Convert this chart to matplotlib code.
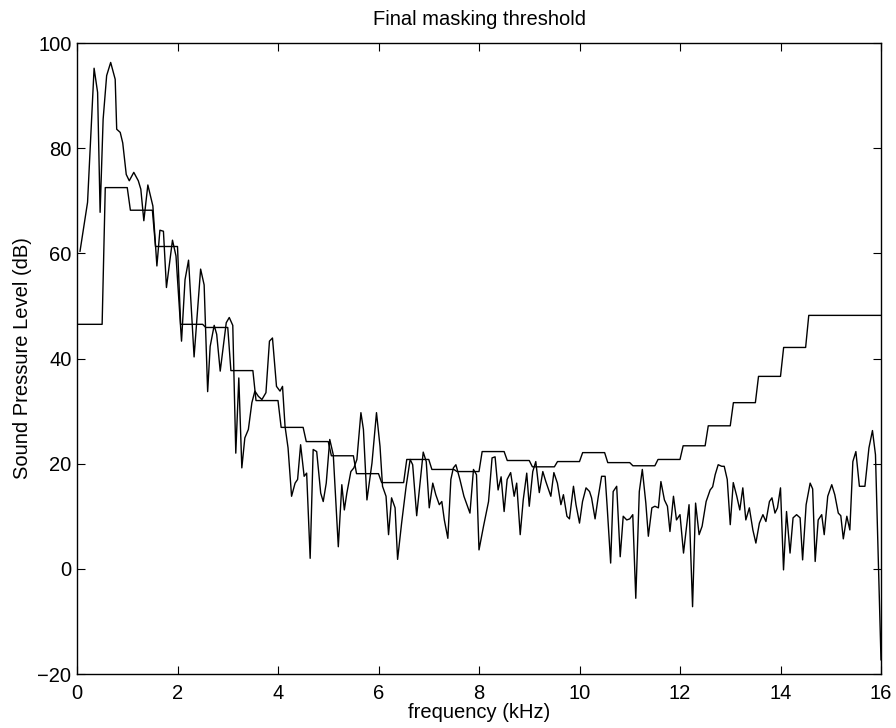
import matplotlib
matplotlib.use("Agg")
import matplotlib.pyplot as plt

plt.rcParams['font.family'] = ['Liberation Sans', 'DejaVu Sans']

# Spectrum (kHz, dB)
freq_khz = [0.06, 0.21, 0.34, 0.41, 0.46, 0.52, 0.59, 0.67, 0.76, 0.79, 0.86, 0.91, 0.98,
            1.04, 1.13, 1.22, 1.27, 1.33, 1.41, 1.51, 1.59, 1.65, 1.72, 1.78, 1.90, 1.97,
            2.08, 2.15, 2.22, 2.33, 2.46, 2.53, 2.60, 2.65, 2.73, 2.78, 2.85, 2.97,
            3.03, 3.10, 3.16, 3.22, 3.28, 3.34, 3.41, 3.48, 3.54, 3.61, 3.68, 3.76, 3.83, 3.89, 3.97,
            4.04, 4.09, 4.14, 4.20, 4.27, 4.34, 4.39, 4.45, 4.52, 4.57, 4.64, 4.70, 4.77, 4.85, 4.90, 4.96,
            5.03, 5.10, 5.20, 5.27, 5.32, 5.37, 5.45, 5.51, 5.57, 5.65, 5.70, 5.77, 5.87, 5.96,
            6.03, 6.08, 6.15, 6.20, 6.26, 6.33, 6.38, 6.46, 6.55, 6.63, 6.68, 6.76, 6.83, 6.89, 6.95,
            7.01, 7.08, 7.14, 7.21, 7.26, 7.31, 7.38, 7.44, 7.49, 7.54, 7.62, 7.70, 7.82, 7.89, 7.95,
            8.00, 8.09, 8.19, 8.26, 8.32, 8.38, 8.44, 8.50, 8.56, 8.63, 8.70, 8.75, 8.82, 8.88, 8.95,
            9.00, 9.07, 9.13, 9.20, 9.27, 9.33, 9.43, 9.49, 9.56, 9.63, 9.68, 9.75, 9.80, 9.88, 9.93,
            10.00, 10.06, 10.13, 10.20, 10.24, 10.31, 10.37, 10.44, 10.51, 10.55, 10.62, 10.67, 10.74,
            10.81, 10.87, 10.94, 11.00, 11.06, 11.12, 11.19, 11.25, 11.32, 11.37, 11.44, 11.50, 11.57,
            11.62, 11.69, 11.75, 11.80, 11.87, 11.93, 12.00, 12.07, 12.18, 12.25, 12.31, 12.38, 12.44,
            12.52, 12.60, 12.65, 12.70, 12.76, 12.83, 12.88, 12.94, 13.00, 13.06, 13.13, 13.19, 13.25,
            13.31, 13.38, 13.45, 13.51, 13.58, 13.65, 13.71, 13.78, 13.83, 13.89, 13.94, 14.00, 14.06,
            14.12, 14.19, 14.25, 14.32, 14.39, 14.44, 14.51, 14.59, 14.64, 14.69, 14.75, 14.82, 14.87,
            14.94, 15.02, 15.08, 15.15, 15.20, 15.25, 15.32, 15.38, 15.44, 15.50, 15.57, 15.68, 15.76,
            15.83, 15.89, 16.00]
spl_db = [60.4, 69.7, 95.2, 90.6, 67.8, 85.5, 93.8, 96.3, 93.1, 83.6, 83.0, 81.0, 75.0,
          73.8, 75.4, 73.8, 72.2, 66.2, 73.0, 69.0, 57.6, 64.4, 64.2, 53.5, 62.5, 59.5,
          43.3, 55.0, 58.7, 40.3, 57.0, 54.0, 33.7, 42.3, 46.3, 44.6, 37.6, 46.8,
          47.8, 46.3, 22.0, 36.3, 19.2, 24.9, 26.5, 31.6, 33.8, 32.8, 32.2, 33.5, 43.3, 43.9, 34.7,
          33.8, 34.7, 27.1, 23.0, 13.8, 16.3, 17.0, 23.6, 17.6, 18.2, 2.0, 22.7, 22.3, 14.4, 12.8, 16.3,
          24.6, 21.7, 4.2, 16.0, 11.2, 14.4, 18.5, 19.2, 20.8, 29.7, 26.5, 13.1, 20.1, 29.7,
          23.3, 15.7, 13.8, 6.5, 13.5, 11.6, 1.8, 8.7, 15.7, 20.8, 19.8, 10.1, 16.6, 22.2, 20.4,
          11.6, 16.3, 14.1, 12.2, 12.8, 9.3, 5.8, 17.0, 19.2, 19.8, 17.0, 13.8, 10.6, 18.9, 17.9,
          3.6, 8.1, 12.8, 21.1, 21.3, 15.0, 17.5, 10.9, 17.0, 18.3, 13.8, 16.3, 6.5, 13.1, 18.2,
          11.9, 18.5, 20.4, 14.5, 18.5, 16.6, 13.8, 18.3, 16.3, 12.2, 14.1, 10.0, 9.5, 15.7, 12.2,
          8.7, 12.8, 15.4, 14.7, 13.5, 9.5, 13.5, 17.6, 17.6, 11.9, 1.1, 14.7, 15.7,
          2.3, 10.0, 9.3, 9.5, 10.3, -5.6, 14.7, 18.9, 12.5, 6.2, 11.6, 11.9, 11.6,
          16.6, 13.1, 11.9, 7.1, 13.8, 9.3, 10.3, 3.0, 12.2, -7.2, 12.5, 6.5, 8.1,
          12.8, 15.0, 15.6, 17.9, 19.8, 19.5, 19.5, 17.0, 8.4, 16.4, 13.8, 11.2, 15.4,
          9.3, 11.6, 7.4, 4.9, 8.7, 10.3, 9.0, 12.8, 13.5, 10.6, 11.6, 15.4, -0.2,
          10.9, 3.0, 9.7, 10.3, 9.7, 1.7, 12.2, 16.3, 15.2, 1.4, 9.3, 10.3, 6.5,
          13.8, 16.0, 14.1, 10.6, 10.1, 5.7, 10.0, 7.4, 20.4, 22.3, 15.7, 15.7, 23.0,
          26.3, 21.7, -17.3]

# Masking threshold: band edges (kHz) and level per band (dB)
band_edges = [0.0, 0.5, 1.0, 1.5, 2.0, 2.5, 3.0, 3.5, 4.0, 4.5, 5.0, 5.5, 6.0, 6.5, 7.0, 7.5,
              8.0, 8.5, 9.0, 9.5, 10.0, 10.5, 11.0, 11.5, 12.0, 12.5, 13.0, 13.5, 14.0, 14.5, 15.0, 16.0]
band_levels = [46.5, 72.5, 68.2, 61.3, 46.5, 45.9, 37.7, 32.0, 26.9, 24.2, 21.5, 18.1, 16.4, 20.8,
               18.9, 18.5, 22.3, 20.6, 19.4, 20.4, 22.1, 20.2, 19.6, 20.8, 23.4, 27.2, 31.6, 36.6,
               42.1, 48.2, 48.2]
bin_width = 0.0625

thr_x, thr_y = [], []
for i, lev in enumerate(band_levels):
    lo = band_edges[i] + (bin_width if i > 0 else 0.0)
    hi = band_edges[i + 1]
    thr_x += [lo, hi]
    thr_y += [lev, lev]

fig = plt.figure(figsize=(8.96, 7.28), dpi=100)
ax = fig.add_axes([77/896, 54/728, 804/896, 631/728])

ax.plot(freq_khz, spl_db, color='black', linewidth=1.0)
ax.plot(thr_x, thr_y, color='black', linewidth=1.0)

ax.set_xlim(0, 16)
ax.set_ylim(-20, 100)
ax.set_xticks(range(0, 17, 2))
ax.set_yticks(range(-20, 101, 20))
ax.set_yticklabels(['\u221220', '0', '20', '40', '60', '80', '100'])
ax.tick_params(direction='in', length=6, width=0.8, top=True, right=True,
               labelsize=14.5, colors='black')
ax.tick_params(axis='x', pad=7.5)
ax.tick_params(axis='y', pad=4)
for s in ax.spines.values():
    s.set_linewidth(1.0)

ax.set_title('Final masking threshold', fontsize=14.5, pad=13)
ax.set_xlabel('frequency (kHz)', fontsize=14.5, labelpad=0)
ax.set_ylabel('Sound Pressure Level (dB)', fontsize=14.5, labelpad=4)

fig.savefig('out.png', dpi=100)
